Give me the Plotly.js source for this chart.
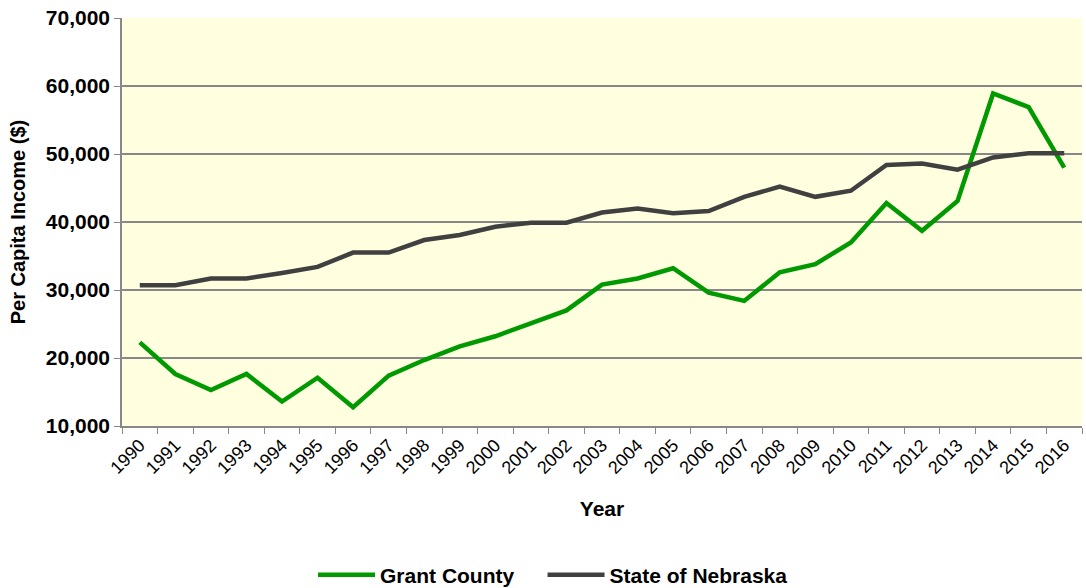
<!DOCTYPE html>
<html>
<head>
<meta charset="utf-8">
<script src="https://cdn.plot.ly/plotly-3.0.1.min.js"></script>
<style>html,body{margin:0;padding:0;background:#fff;}#chart{width:1086px;height:588px;}</style>
</head>
<body>
<div id="chart"></div>
<script>
const years = ["1990","1991","1992","1993","1994","1995","1996","1997","1998","1999","2000","2001","2002","2003","2004","2005","2006","2007","2008","2009","2010","2011","2012","2013","2014","2015","2016"];
const grantCounty = [22300,17650,15300,17650,13600,17100,12750,17400,19700,21700,23200,25100,27000,30800,31700,33200,29600,28400,32600,33800,37000,42800,38700,43100,58900,56900,48000];
const nebraska = [30700,30700,31700,31700,32500,33400,35500,35500,37350,38100,39300,39900,39900,41400,42000,41300,41600,43700,45200,43700,44600,48400,48600,47700,49500,50100,50100];
const seriesNames = ["Grant County", "State of Nebraska"];

const fontFam = '"Liberation Sans", Arial, sans-serif';
const traces = [
  {x: years, y: grantCounty, type: 'scatter', mode: 'lines',
   name: '<b>' + seriesNames[0] + '</b>&nbsp;&nbsp;&nbsp;&nbsp;',
   line: {color: '#009900', width: 4.5}},
  {x: years, y: nebraska, type: 'scatter', mode: 'lines',
   name: '<b>' + seriesNames[1] + '</b>',
   line: {color: '#404040', width: 4.5}}
];
const layout = {
  width: 1086, height: 588,
  margin: {l: 122, r: 4, t: 18, b: 162},
  paper_bgcolor: '#ffffff',
  plot_bgcolor: '#FFFFE0',
  font: {family: fontFam, color: '#000'},
  showlegend: true,
  legend: {orientation: 'h', xref: 'paper', x: 0.449, xanchor: 'center',
           yref: 'container', y: 0.022, yanchor: 'middle', itemwidth: 57,
           font: {size: 21, family: fontFam}, traceorder: 'normal'},
  xaxis: {
    type: 'category', tickson: 'boundaries', ticks: 'outside', ticklen: 6, tickcolor: '#888',
    showgrid: false, showline: true, linecolor: '#888', linewidth: 1.5,
    tickangle: -45, tickfont: {size: 18, family: fontFam}, automargin: false,
    title: {text: '<b>Year</b>', font: {size: 21, family: fontFam}, standoff: 24},
    range: [-0.5, 26.5]
  },
  yaxis: {
    range: [10000, 70000], dtick: 10000, tickformat: ',d',
    ticks: 'outside', ticklen: 6, tickcolor: '#888', automargin: false,
    showgrid: true, gridcolor: '#888', gridwidth: 1.5,
    showline: true, linecolor: '#888', linewidth: 1.5, zeroline: false,
    tickfont: {size: 21, family: fontFam},
    tickprefix: '<b>', ticksuffix: '</b>'
  },
  annotations: [{
    text: '<b>Per Capita Income ($)</b>', xref: 'paper', yref: 'paper',
    x: -0.108, y: 0.5, xanchor: 'center', yanchor: 'middle', textangle: -90,
    showarrow: false, font: {size: 20, family: fontFam, color: '#000'}
  }]
};
Plotly.newPlot('chart', traces, layout, {displayModeBar: false});
</script>
</body>
</html>
